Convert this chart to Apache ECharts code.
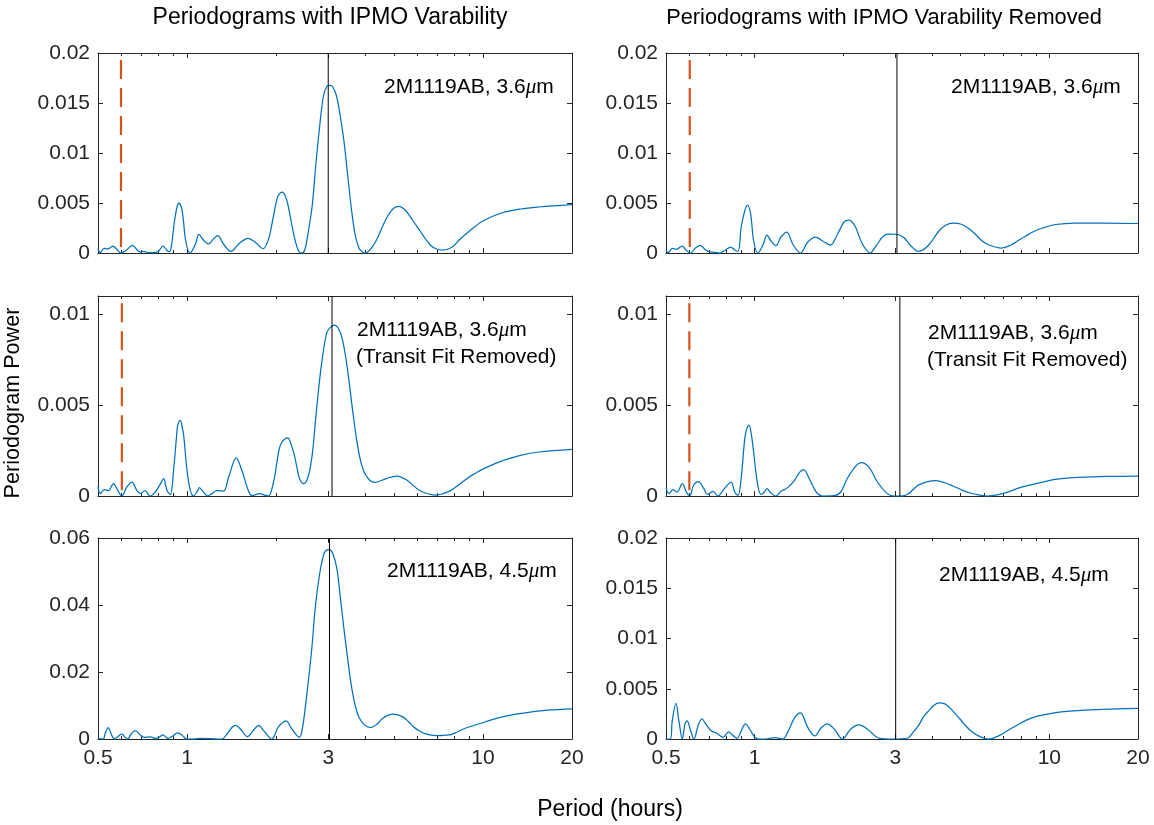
<!DOCTYPE html>
<html><head><meta charset="utf-8">
<style>html,body{margin:0;padding:0;background:#fff}#c{width:1154px;height:825px}</style>
<script src="https://cdn.jsdelivr.net/npm/echarts@6/dist/echarts.min.js"></script>
</head><body><div id="c"></div>
<script>
const xMajorTicks=[0.5,1,3,10,20];
const xMinorTicks=[0.6,0.7,0.8,0.9,2,4,5,6,7,8,9];
const yTicksRow1=[0,0.005,0.01,0.015,0.02];
const yTicksRow2=[0,0.005,0.01];
const yTicksRow3Left=[0,0.02,0.04,0.06];
const yTicksRow3Right=[0,0.005,0.01,0.015,0.02];
const yMaxes=[0.02,0.011,0.06,0.02,0.011,0.02];
const panelTitles=["Periodograms with IPMO Varability","Periodograms with IPMO Varability Removed"];
const blackPeriods=[3.0,3.09,3.03,3.04,3.11,3.01];
const redPeriods=[0.598,0.602,null,0.602,0.6,null];
const redTops=[0.0193,0.0106,null,0.0193,0.0106,null];

const L1=[[.5,.0004],[.509,.00003],[.524,.00047],[.54,.0004],[.561,.0007],[.579,.00037],[.597,0],[.626,.00033],[.654,.00077],[.682,.00023],[.698,.0001],[.715,.00017],[.741,.00003],[.77,.00003],[.8,.00017],[.829,.0007],[.852,.0003],[.871,.00013],[.884,.00057],[.907,.0032],[.925,.0046],[.939,.005],[.956,.0046],[.969,.0036],[.991,.0011],[1.023,0],[1.068,.0009],[1.096,.00187],[1.136,.0013],[1.18,.0009],[1.228,.0014],[1.27,.00173],[1.328,.0009],[1.408,.00017],[1.494,.0009],[1.608,.00147],[1.7,.00107],[1.806,.00043],[1.886,.0014],[1.936,.0029],[1.986,.0046],[2.03,.0057],[2.1,.0061],[2.148,.0057],[2.19,.0049],[2.25,.0031],[2.32,.00123],[2.38,.00023],[2.44,0],[2.5,.00033],[2.57,.00217],[2.65,.0048],[2.73,.00917],[2.81,.0128],[2.89,.0157],[2.97,.01667],[3.04,.01677],[3.11,.0166],[3.2,.0157],[3.29,.0138],[3.39,.0112],[3.49,.0078],[3.59,.0045],[3.7,.0018],[3.81,.0005],[3.91,.0001],[4.0,0],[4.2,.0005],[4.4,.0015],[4.58,.00267],[4.79,.0038],[5.0,.0045],[5.2,.00467],[5.46,.0043],[5.78,.0033],[6.13,.0022],[6.4,.0014],[6.69,.0007],[6.97,.0004],[7.3,.0003],[7.63,.0004],[7.95,.0007],[8.38,.0014],[8.93,.0021],[10,.0032],[11.55,.004],[13.4,.0044],[15.5,.0046],[20,.00483]];

const L2=[[.5,.00053],[.509,.00013],[.525,.00035],[.542,.00029],[.564,.00068],[.583,.00031],[.602,0],[.626,.0005],[.651,.00077],[.676,.00031],[.695,.00013],[.72,.00029],[.751,0],[.781,.00022],[.811,.00064],[.833,.00095],[.855,.00031],[.878,.00007],[.9,.0014],[.925,.0036],[.93,.0039],[.948,.00416],[.965,.0037],[.973,.0034],[1.01,.00086],[1.05,0],[1.08,.00022],[1.1,.00046],[1.136,.00022],[1.174,0],[1.22,.00016],[1.262,.00029],[1.328,.00027],[1.38,.001],[1.466,.0021],[1.532,.0014],[1.618,.00022],[1.66,.00002],[1.755,.00013],[1.84,.00004],[1.886,0],[1.96,.00077],[2.01,.0018],[2.05,.0026],[2.1,.003],[2.19,.0032],[2.24,.0029],[2.3,.0023],[2.35,.0016],[2.4,.00095],[2.48,.00068],[2.57,.0011],[2.65,.0023],[2.73,.0045],[2.81,.0065],[2.89,.008],[2.97,.009],[3.06,.0093],[3.15,.0094],[3.25,.0092],[3.34,.0087],[3.44,.0076],[3.54,.0061],[3.64,.0045],[3.75,.003],[3.85,.002],[3.97,.0013],[4.14,.00087],[4.33,.00075],[4.71,.00096],[5.12,.0011],[5.54,.00087],[6.13,.00029],[6.97,.00005],[7.3,.00012],[7.75,.00028],[8.3,.00062],[8.93,.00102],[9.5,.00128],[10,.00148],[10.7,.0017],[11.55,.00192],[13.4,.00224],[15.5,.00242],[20,.00256]];

const L3=[[.5,.0002],[.52,0],[.53,.002],[.542,.0034],[.554,.0015],[.568,0],[.583,.0007],[.602,.0015],[.618,.0005],[.63,0],[.647,.0015],[.668,.0025],[.695,.0012],[.716,.0005],[.751,.0006],[.781,.0002],[.803,.0005],[.829,.0012],[.861,.0002],[.888,.0007],[.929,.0018],[.966,.001],[.997,0],[1.05,0],[1.12,.0002],[1.2,.0001],[1.31,0],[1.365,.0015],[1.42,.0035],[1.46,.0041],[1.514,.003],[1.6,.0007],[1.68,.0027],[1.745,.0041],[1.815,.0025],[1.936,0],[2.03,.0035],[2.16,.0054],[2.26,.003],[2.4,.0005],[2.44,.002],[2.49,.007],[2.56,.016],[2.64,.027],[2.71,.0389],[2.8,.0488],[2.88,.0543],[2.94,.0562],[3.02,.0565],[3.11,.0553],[3.21,.0508],[3.3,.0419],[3.39,.0329],[3.49,.0239],[3.59,.016],[3.7,.01],[3.81,.0065],[3.97,.0043],[4.16,.0034],[4.37,.0043],[4.56,.006],[4.74,.007],[5.02,.0074],[5.36,.0066],[5.6,.0052],[5.8,.0038],[6.0,.0028],[6.37,.0016],[6.95,.001],[7.69,.0012],[8.2,.0021],[8.72,.0032],[10.1,.005],[11.7,.0067],[13.9,.0078],[16.5,.0086],[20,.009]];

const R1=[[.5,.0003],[.509,.00003],[.525,.00047],[.542,.00037],[.568,.0007],[.583,.00033],[.605,0],[.629,.0005],[.654,.00073],[.682,.0003],[.704,.0001],[.732,.00007],[.762,0],[.79,.00023],[.829,.0006],[.855,.0003],[.878,.00017],[.9,.0026],[.925,.0042],[.946,.0048],[.969,.0039],[.992,.0012],[1.025,0],[1.07,.0009],[1.1,.0018],[1.136,.0012],[1.18,.00073],[1.228,.0016],[1.285,.0021],[1.346,.0009],[1.43,0],[1.514,.0011],[1.608,.0016],[1.7,.0012],[1.806,.0008],[1.912,.0019],[2.01,.0031],[2.09,.0033],[2.19,.0027],[2.32,.0009],[2.47,0],[2.54,.0004],[2.61,.0009],[2.71,.00157],[2.82,.0019],[2.93,.0019],[3.05,.00185],[3.15,.0017],[3.22,.0015],[3.4,.00068],[3.59,.00017],[3.74,.00034],[3.91,.00085],[4.06,.0015],[4.22,.0022],[4.46,.0028],[4.71,.003],[5.0,.0029],[5.3,.0025],[5.6,.0019],[5.92,.0012],[6.25,.0008],[6.88,.0005],[7.36,.00075],[7.8,.0012],[8.32,.0017],[8.93,.0022],[9.5,.0025],[10.3,.0028],[11,.0029],[12.1,.003],[15.2,.003],[20,.00295]];

const R2=[[.5,.00046],[.512,.00013],[.528,.00035],[.545,.00022],[.568,.00068],[.586,.00022],[.602,0],[.62,.00059],[.644,.00079],[.672,.0004],[.69,.00009],[.722,.00026],[.751,0],[.781,.00031],[.816,.00068],[.833,.00077],[.855,.00022],[.878,.00004],[.9,.001],[.93,.0034],[.956,.0039],[.98,.0031],[1.02,.00077],[1.05,.00009],[1.08,.00022],[1.1,.0004],[1.136,.00016],[1.18,0],[1.228,.00026],[1.294,.00046],[1.365,.00086],[1.42,.0013],[1.466,.00145],[1.532,.00095],[1.618,.00022],[1.7,0],[1.86,.00002],[1.96,.00022],[2.06,.00095],[2.2,.00163],[2.3,.00183],[2.45,.00156],[2.61,.00077],[2.82,.00013],[2.98,0],[3.13,0],[3.31,.0001],[3.45,.00036],[3.59,.0006],[3.84,.00078],[4.12,.00084],[4.42,.00073],[4.71,.00055],[5.05,.00033],[5.42,.00015],[5.82,.00005],[6.14,0],[6.99,.00015],[8.0,.00047],[9,.00068],[9.97,.00085],[11,.00095],[12.5,.00102],[15.7,.00108],[20,.0011]];

const R3=[[.5,0],[.517,0],[.525,.0018],[.54,.00355],[.554,.00166],[.568,0],[.58,.0015],[.59,.0018],[.605,.0009],[.622,0],[.642,.0013],[.662,.002],[.682,.0015],[.713,.0008],[.741,.0006],[.781,.00017],[.816,.0007],[.833,.0005],[.871,.00007],[.9,.0008],[.93,.0015],[.961,.001],[.997,.00023],[1.03,0],[1.09,0],[1.17,.00013],[1.245,0],[1.294,.00066],[1.365,.0021],[1.43,.0026],[1.514,.00116],[1.6,.0003],[1.68,.0011],[1.76,.0015],[1.86,.001],[1.986,0],[2.12,.001],[2.26,.0014],[2.41,.001],[2.65,.00007],[2.93,0],[3.31,.0001],[3.45,.00067],[3.59,.0013],[3.74,.0022],[3.91,.00285],[4.06,.00335],[4.22,.0036],[4.42,.0035],[4.6,.0031],[4.87,.0023],[5.14,.0015],[5.42,.0008],[5.82,.00023],[6.2,0],[6.75,.00033],[7.27,.0009],[7.8,.0014],[8.4,.0019],[8.93,.0022],[9.97,.0025],[11,.0027],[12.1,.0028],[15.2,.00295],[20,.00305]];

const allCurves=[L1,L2,L3,R1,R2,R3];
const yTicks=[yTicksRow1,yTicksRow2,yTicksRow3Left,yTicksRow1,yTicksRow2,yTicksRow3Right];

const FONT='"Liberation Sans"';
const AX='#262626';
const rects=[[98,53,474,200],[98,296,474,200],[98,538,474,201],[666,53,472,200],[666,296,472,200],[666,538,472,201]];
const grid=[],xAxis=[],yAxis=[],series=[];
rects.forEach((r,i)=>{
  grid.push({left:r[0],top:r[1],width:r[2],height:r[3],containLabel:false});
  const bottomRow=(i%3===2);
  const mkX=(pos,custom,len,label,line)=>({type:'log',logBase:10,gridIndex:i,min:0.5,max:20,position:pos,
    axisLine:{show:line,onZero:false,lineStyle:{color:AX,width:1}},
    axisTick:{show:true,inside:true,length:len,customValues:custom,lineStyle:{color:AX,width:1}},
    splitLine:{show:false},minorTick:{show:false},minorSplitLine:{show:false},
    axisLabel:{show:label,customValues:label?custom:undefined,color:AX,fontFamily:FONT,fontSize:21,margin:9,
      showMinLabel:true,showMaxLabel:true,hideOverlap:false,formatter:v=>String(+(+v).toPrecision(3))}});
  const base=xAxis.length;
  xAxis.push(mkX('bottom',xMajorTicks,5,bottomRow,true));
  xAxis.push(mkX('bottom',xMinorTicks,3,false,false));
  xAxis.push(mkX('top',xMajorTicks,5,false,true));
  xAxis.push(mkX('top',xMinorTicks,3,false,false));
  const mkY=(pos,label)=>({type:'value',gridIndex:i,min:0,max:yMaxes[i],position:pos,
    axisLine:{show:true,onZero:false,lineStyle:{color:AX,width:1}},
    axisTick:{show:true,inside:true,length:5,customValues:yTicks[i],lineStyle:{color:AX,width:1}},
    splitLine:{show:false},
    axisLabel:{show:label,customValues:yTicks[i],color:AX,fontFamily:FONT,fontSize:21,margin:8,
      formatter:v=>String(+(+v).toPrecision(3))}});
  const ybase=yAxis.length;
  yAxis.push(mkY('left',true));
  yAxis.push(mkY('right',false));
  const common={type:'line',xAxisIndex:base,yAxisIndex:ybase,showSymbol:false,symbol:'none',silent:true,animation:false};
  series.push({...common,smooth:0.35,clip:true,data:allCurves[i],lineStyle:{color:'#0072BD',width:1.25},z:3});
  series.push({...common,data:[[blackPeriods[i],0],[blackPeriods[i],yMaxes[i]]],lineStyle:{color:'#000',width:1},z:4});
  if(redPeriods[i]!==null){
    series.push({...common,data:[[redPeriods[i],redTops[i]],[redPeriods[i],0]],
      lineStyle:{color:'#D95319',width:2.2,type:[19,9]},z:5});
  }
});
const rich={a:{fontFamily:FONT,fontSize:21,color:'#000',fill:'#000'},m:{fontFamily:'"Liberation Serif"',fontStyle:'italic',fontSize:21,color:'#000',fill:'#000'}};
const mu=(x,y,w)=>({type:'text',x,y,style:{text:`{a|2M1119AB, ${w}}{m|μ}{a|m}`,rich,verticalAlign:'middle',align:'left'}});
const plain=(x,y,t,size,align,rot)=>({type:'text',x,y,rotation:rot||0,style:{text:t,font:`${size}px ${FONT}`,fill:'#000',align:align||'left',verticalAlign:'middle'}});
const graphic=[
  plain(330,18,panelTitles[0],23,'center'),
  plain(884,18,panelTitles[1],21.8,'center'),
  mu(384,87,'3.6'),mu(951,87,'3.6'),
  mu(357,330,'3.6'),plain(356,357,'(Transit Fit Removed)',20.8),
  mu(928,333,'3.6'),plain(927,360,'(Transit Fit Removed)',20.8),
  mu(387,571,'4.5'),mu(939,575,'4.5'),
  plain(610,810,'Period (hours)',23,'center'),
  plain(13,403,'Periodogram Power',21.6,'center',Math.PI/2)
];
const chart=echarts.init(document.getElementById('c'),null,{renderer:'canvas'});
chart.setOption({animation:false,backgroundColor:'#fff',grid,xAxis,yAxis,series,graphic});
</script></body></html>
